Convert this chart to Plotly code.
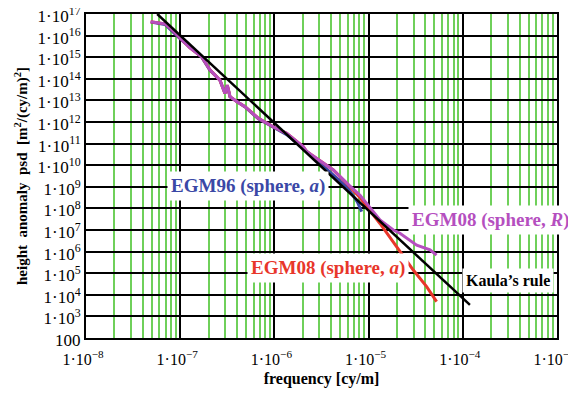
import plotly.graph_objects as go

# ---- data ----
x_ticks = [1e-8, 1e-7, 1e-6, 1e-5, 1e-4, 1e-3]
x_ticktext = ["1·10<sup>−8</sup>", "1·10<sup>−7</sup>", "1·10<sup>−6</sup>",
              "1·10<sup>−5</sup>", "1·10<sup>−4</sup>", "1·10<sup>−3</sup>"]
y_ticks = [1e2, 1e3, 1e4, 1e5, 1e6, 1e7, 1e8, 1e9, 1e10, 1e11, 1e12,
           1e13, 1e14, 1e15, 1e16, 1e17]
y_ticktext = ["100"] + ["1·10<sup>%d</sup>" % k for k in range(3, 18)]

kaula_f = [5.7e-8, 1.19e-4]
kaula_psd = [1.0e17, 3.4e3]

egm08R_f = [4.86e-8, 6.9e-8, 7.9e-8, 1.0e-7, 1.26e-7, 1.69e-7, 2.07e-7, 2.64e-7,
            2.99e-7, 3.16e-7, 3.38e-7, 3.98e-7, 4.88e-7, 6.75e-7, 9.72e-7,
            1.35e-6, 2.03e-6, 2.2e-6, 3.16e-6, 4.22e-6, 6.31e-6, 8.11e-6,
            9.53e-6, 1.32e-5, 1.83e-5, 2.15e-5, 3.24e-5, 4.49e-5, 5.27e-5]
egm08R_psd = [4.4e16, 3.5e16, 2.2e16, 7.4e15, 2.8e15, 1.05e15, 2.6e14, 8.7e13,
              2.1e13, 5.1e13, 1.5e13, 8.9e12, 5.1e12, 1.5e12, 6.0e11,
              3.0e11, 7.2e10, 4.3e10, 1.4e10, 6.0e9, 1.1e9, 4.0e8,
              1.7e8, 2.9e7, 1.0e7, 7.1e6, 2.0e6, 1.2e6, 6.9e5]

egm08a_f = [4.86e-8, 6.9e-8, 7.9e-8, 1.0e-7, 1.26e-7, 1.69e-7, 2.07e-7, 2.64e-7,
            2.99e-7, 3.16e-7, 3.38e-7, 3.98e-7, 4.88e-7, 6.75e-7, 9.72e-7,
            1.35e-6, 2.03e-6, 2.2e-6, 3.16e-6, 4.22e-6, 5.83e-6, 7.94e-6,
            9.53e-6, 1.32e-5, 1.98e-5, 2.98e-5, 4.13e-5, 5.27e-5]
egm08a_psd = [4.4e16, 3.5e16, 2.2e16, 7.4e15, 2.8e15, 1.05e15, 2.6e14, 8.7e13,
              2.1e13, 5.1e13, 1.5e13, 8.9e12, 5.1e12, 1.5e12, 6.0e11,
              3.0e11, 7.2e10, 4.3e10, 1.4e10, 6.0e9, 1.45e9, 3.5e8,
              1.26e8, 2.0e7, 1.7e6, 1.4e5, 2.4e4, 4.8e3]

egm96_f = [4.86e-8, 6.9e-8, 1.0e-7, 1.69e-7, 2.07e-7, 2.64e-7, 2.99e-7, 3.16e-7,
           3.38e-7, 4.88e-7, 6.75e-7, 9.72e-7, 1.35e-6, 2.03e-6, 3.16e-6,
           3.89e-6, 6.04e-6, 7.59e-6, 8.45e-6]
egm96_psd = [4.2e16, 3.3e16, 7.1e15, 1.0e15, 2.5e14, 8.5e13, 2.1e13, 5.0e13,
             1.45e13, 5.0e12, 1.4e12, 5.6e11, 2.6e11, 6.0e10, 1.1e10,
             4.5e9, 8.7e8, 2.0e8, 7.1e7]

# ---- figure ----
FONT = "Liberation Serif"
BLUE = "#3a48a6"
MAGENTA = "#b54fbf"
RED = "#e8362a"
GREEN = "#6fd05a"

fig = go.Figure()
fig.add_trace(go.Scatter(x=egm96_f, y=egm96_psd, mode="lines",
                         line=dict(color=BLUE, width=3)))
fig.add_trace(go.Scatter(x=egm08a_f, y=egm08a_psd, mode="lines",
                         line=dict(color=RED, width=3)))
fig.add_trace(go.Scatter(x=egm08R_f, y=egm08R_psd, mode="lines",
                         line=dict(color=MAGENTA, width=3)))
fig.add_trace(go.Scatter(x=kaula_f, y=kaula_psd, mode="lines",
                         line=dict(color="black", width=2.5)))

ann_common = dict(showarrow=False, bgcolor="white", borderpad=3,
                  xref="x", yref="y")
fig.add_annotation(x=-6.28, y=9.04,
                   text="<b>EGM96 (sphere, <i>a</i>)</b>",
                   font=dict(family=FONT, size=19, color=BLUE), **ann_common)
fig.add_annotation(x=-3.71, y=7.46,
                   text="<b>EGM08 (sphere, <i>R</i>)</b>",
                   font=dict(family=FONT, size=19, color=MAGENTA), **ann_common)
fig.add_annotation(x=-5.43, y=5.24,
                   text="<b>EGM08 (sphere, <i>a</i>)</b>",
                   font=dict(family=FONT, size=19, color=RED), **ann_common)
fig.add_annotation(x=-3.52, y=4.64,
                   text="<b>Kaula’s rule</b>",
                   font=dict(family=FONT, size=16, color="black"), **ann_common)

# the page body adds an 8px offset; size/margins compensate for it
fig.update_layout(
    width=568, height=387,
    margin=dict(l=78, r=19, t=6, b=57),
    paper_bgcolor="white", plot_bgcolor="white",
    showlegend=False,
    font=dict(family=FONT, size=17, color="black"),
)
fig.update_xaxes(
    type="log", range=[-8, -3],
    tickmode="array", tickvals=x_ticks, ticktext=x_ticktext,
    ticklabeloverflow="allow", ticklabelshift=-3, ticklabelstandoff=6,
    tickfont=dict(size=16),
    showgrid=True, gridcolor="black", gridwidth=1.5,
    minor=dict(dtick="D1", showgrid=True, gridcolor=GREEN, gridwidth=1.5),
    showline=True, linecolor="black", linewidth=2, mirror=True,
    ticks="", zeroline=False, automargin=False,
    title=dict(text="<b>frequency [cy/m]</b>", font=dict(size=16), standoff=6),
)
fig.update_yaxes(
    type="log", range=[2, 17],
    tickmode="array", tickvals=y_ticks, ticktext=y_ticktext,
    ticklabeloverflow="allow", ticklabelshift=2,
    showgrid=True, gridcolor="black", gridwidth=1.5,
    showline=True, linecolor="black", linewidth=2, mirror=True,
    ticks="", zeroline=False, automargin=False,
    title=dict(text="<b>height  anomaly  psd  [m<sup>2</sup>/(cy/m)<sup>2</sup>]</b>",
               font=dict(size=15), standoff=6),
)

fig.write_html("out.html")
